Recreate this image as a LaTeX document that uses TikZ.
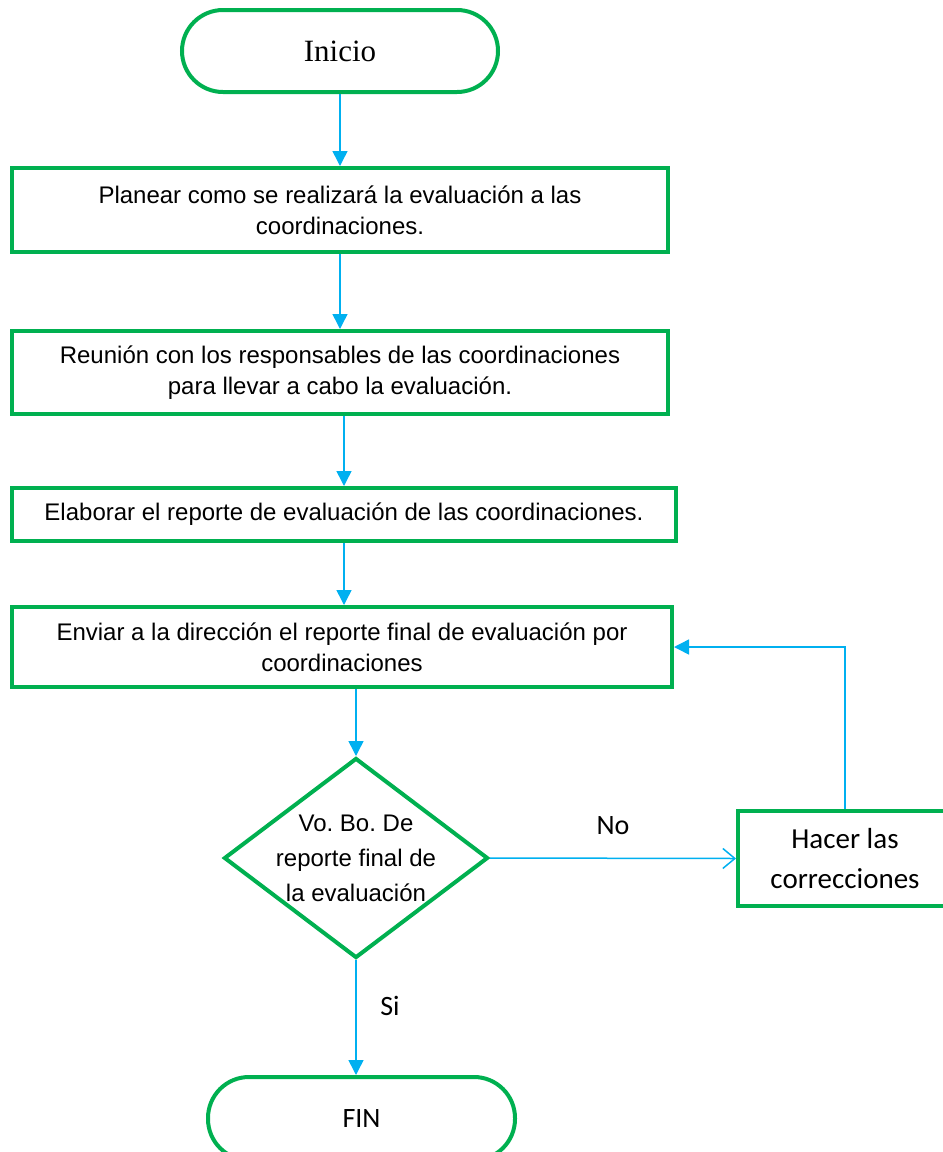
\documentclass[tikz,border=0pt]{standalone}
\usepackage{fontspec}
\usetikzlibrary{arrows.meta,shapes.geometric}
\newfontfamily\arialf{Liberation Sans}
\newfontfamily\calib{Carlito}
\newfontfamily\romana{Liberation Serif}
\definecolor{verde}{RGB}{0,176,80}
\definecolor{azul}{RGB}{0,176,240}
\frenchspacing
\begin{document}
\begin{tikzpicture}[x=1pt,y=-1pt,
  caja/.style={draw=verde,line width=4pt,align=center,inner sep=0pt,
    font=\arialf\fontsize{24pt}{31pt}\selectfont},
  term/.style={draw=verde,line width=4pt,rounded corners=41pt,inner sep=0pt},
  decis/.style={diamond,draw=verde,line width=4pt,inner sep=0pt},
  flecha/.style={azul,line width=1.5pt,-{Triangle[length=15pt,width=15pt]}},
  abierta/.style={azul,line width=1.5pt,-{Straight Barb[length=12pt,width=20pt]}},
  etiq/.style={text=black,font=\calib\fontsize{28pt}{34pt}\selectfont}]
\useasboundingbox (0,0) rectangle (943,1152);
%---------------------------------------------------
\node[term,minimum width=316pt,minimum height=82pt,
  font=\romana\fontsize{31pt}{36pt}\selectfont] (ini) at (340,51) {Inicio};
\node[caja,minimum width=656pt,minimum height=84pt] (p1) at (340,210)
  {Planear como se realizará la evaluación a las\\coordinaciones.};
\node[caja,minimum width=656pt,minimum height=83pt] (p2) at (340,372.5)
  {Reunión con los responsables de las coordinaciones\\para llevar a cabo la evaluación.};
\node[caja,minimum width=664pt,minimum height=53pt] (p3) at (344,514.5)
  {Elaborar el reporte de evaluación de las coordinaciones.};
\node[caja,minimum width=660pt,minimum height=80pt] (p4) at (342,647)
  {Enviar a la dirección el reporte final de evaluación por\\coordinaciones};
%---------------------------------------------------
\node[decis,minimum width=264pt,minimum height=200pt,
  label={[align=center,font=\arialf\fontsize{24pt}{35pt}\selectfont]center:Vo. Bo. De\\reporte final de\\la evaluación}]
  (dec) at (356,858) {};
\node[caja,minimum width=214pt,minimum height=95pt,
  font=\calib\fontsize{29pt}{40pt}\selectfont] (hac) at (845,858.5)
  {Hacer las\\correcciones};
\node[term,minimum width=307pt,minimum height=83pt,etiq] (fin) at (361.5,1118.5) {FIN};
%---------------------------------------------------
\draw[flecha] (ini.south) -- (p1.north);
\draw[flecha] (p1.south) -- (p2.north);
\draw[flecha] (p3.north |- p2.south) -- (p3.north);
\draw[flecha] (p3.south) -- (p3.south |- p4.north);
\draw[flecha] (dec.north |- p4.south) -- (dec.north);
\draw[abierta] (dec.east) -- node[etiq,midway,yshift=33pt] {No} (hac.west);
\draw[flecha] (hac.north) |- (p4.east);
\draw[flecha] (dec.south) -- node[etiq,pos=0.4,xshift=34pt] {Si} (dec.south |- fin.north);
\end{tikzpicture}
\end{document}
